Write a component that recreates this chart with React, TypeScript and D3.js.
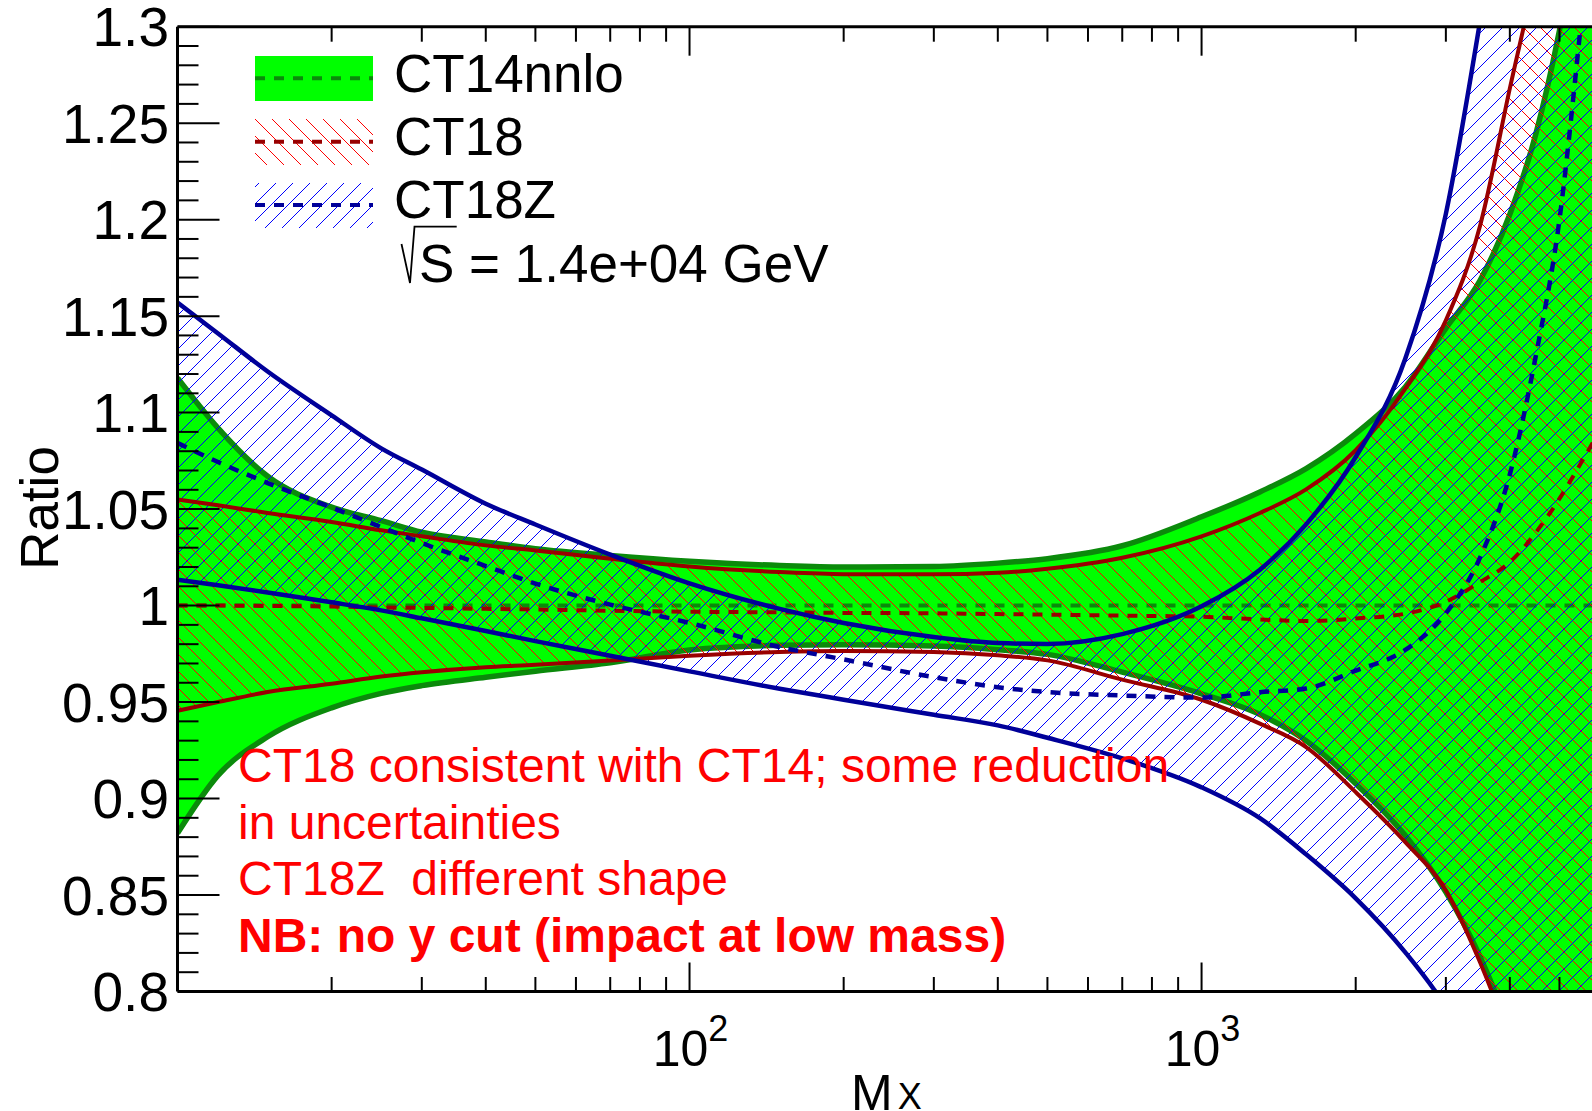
import React from 'react';
import * as d3 from 'd3';

// ---- data ----
const massGrid = [10, 12, 15, 20, 25, 30, 40, 50, 70, 100, 150, 200, 300, 400, 500, 700, 1000, 1300, 1600, 2000, 2500, 3000, 3500, 4000, 4500, 5000, 5500, 6000];

const ct14Up = [1.118, 1.092, 1.067, 1.051, 1.044, 1.038, 1.033, 1.0295, 1.026, 1.023, 1.0208, 1.020, 1.0203, 1.022, 1.0243, 1.031, 1.046, 1.0589, 1.071, 1.0891, 1.1133, 1.1437, 1.1686, 1.2028, 1.2448, 1.298, 1.36, 1.43];
const ct14Lo = [0.882, 0.912, 0.932, 0.947, 0.9545, 0.9585, 0.9629, 0.966, 0.9704, 0.977, 0.9794, 0.9797, 0.979, 0.9771, 0.9747, 0.9655, 0.9543, 0.9436, 0.930, 0.9077, 0.8808, 0.8515, 0.818, 0.78, 0.74, 0.70, 0.66, 0.62];
const ct14CentralMass = [10, 6000];
const ct14Central = [1.0, 1.0];

const ct18Up = [1.055, 1.052, 1.048, 1.0433, 1.039, 1.0359, 1.0312, 1.0286, 1.0243, 1.0203, 1.0174, 1.0163, 1.0162, 1.017, 1.0191, 1.0248, 1.0359, 1.048, 1.0602, 1.0805, 1.1124, 1.1478, 1.197, 1.268, 1.33, 1.40, 1.47, 1.55];
const ct18Lo = [0.9455, 0.950, 0.9552, 0.9595, 0.9632, 0.9655, 0.9681, 0.9693, 0.9716, 0.974, 0.9759, 0.9764, 0.9759, 0.9742, 0.9716, 0.9616, 0.9512, 0.9388, 0.9267, 0.9033, 0.8774, 0.8524, 0.815, 0.775, 0.735, 0.695, 0.655, 0.615];
const ct18Cen = [1.0, 1.0, 0.9998, 0.9995, 0.999, 0.9988, 0.9983, 0.998, 0.9973, 0.9968, 0.9965, 0.9962, 0.996, 0.9956, 0.9953, 0.9948, 0.9942, 0.9928, 0.992, 0.9933, 0.9958, 1.002, 1.0122, 1.0225, 1.038, 1.0554, 1.0736, 1.091];

const ct18zUp = [1.157, 1.141, 1.1213, 1.0986, 1.0815, 1.0705, 1.0528, 1.042, 1.0264, 1.0115, 0.9983, 0.991, 0.9837, 0.9806, 0.9801, 0.9852, 0.9996, 1.0186, 1.0421, 1.077, 1.128, 1.203, 1.303, 1.40, 1.50, 1.60, 1.70, 1.80];
const ct18zLo = [1.0134, 1.0105, 1.0068, 1.0017, 0.9975, 0.9934, 0.9868, 0.9816, 0.974, 0.9659, 0.9569, 0.9512, 0.9434, 0.9379, 0.9315, 0.9208, 0.9058, 0.8898, 0.8711, 0.8483, 0.8203, 0.792, 0.76, 0.73, 0.70, 0.67, 0.64, 0.61];
const ct18zCen = [1.0843, 1.0744, 1.0635, 1.0508, 1.0407, 1.0324, 1.0205, 1.0114, 1.0005, 0.991, 0.9785, 0.9721, 0.9629, 0.9577, 0.9552, 0.9534, 0.9523, 0.9551, 0.957, 0.9663, 0.977, 0.996, 1.025, 1.068, 1.13, 1.20, 1.30, 1.40];

const yTickValues = [0.8, 0.85, 0.9, 0.95, 1.0, 1.05, 1.1, 1.15, 1.2, 1.25, 1.3];
const yTickLabels = ['0.8', '0.85', '0.9', '0.95', '1', '1.05', '1.1', '1.15', '1.2', '1.25', '1.3'];
const xMajorTicks = [100, 1000];
const xMajorExponents = ['2', '3'];
const xMinorTicks = [20, 30, 40, 50, 60, 70, 80, 90, 200, 300, 400, 500, 600, 700, 800, 900, 2000, 3000, 4000, 5000];

const legendLabels = ['CT14nnlo', 'CT18', 'CT18Z'];
const noteLines = ['CT18 consistent with CT14; some reduction', 'in uncertainties', 'CT18Z  different shape'];
const noteBold = 'NB: no y cut (impact at low mass)';

// ---- layout ----
const W = 1592;
const H = 1111;
const L = 177.5;
const R = 1600;
const T = 26.7;
const B = 991.5;
const FONT = '"Liberation Sans", Arial, Helvetica, sans-serif';

const GREEN = '#00ff00';
const DKGREEN = '#0b8a0b';
const DKRED = '#990000';
const DKBLUE = '#000099';
const HS = 17; // hatch tile size

export default function App() {
  const x = d3.scaleLog().domain([10, 6000]).range([L, R]);
  const y = d3.scaleLinear().domain([0.8, 1.3]).range([B, T]);

  const band = (lo: number[], up: number[]) =>
    d3
      .area<number>()
      .x((d) => x(d))
      .y0((_, i) => y(lo[i]))
      .y1((_, i) => y(up[i]))
      .curve(d3.curveMonotoneX)(massGrid) || '';
  const line = (vals: number[], xs: number[] = massGrid) =>
    d3
      .line<number>()
      .x((d) => x(d))
      .y((_, i) => y(vals[i]))
      .curve(d3.curveMonotoneX)(xs) || '';

  const yMinor = d3.range(80, 131).map((v) => v / 100);

  return (
    <svg
      width={W}
      height={H}
      style={{ position: 'absolute', left: 0, top: 0, background: '#fff' }}
      fontFamily={FONT}
    >
      <defs>
        <clipPath id="plotClip">
          <rect x={L} y={T} width={R - L} height={B - T} />
        </clipPath>
        <pattern id="hatchRed" patternUnits="userSpaceOnUse" width={HS} height={HS}>
          <path
            d={`M0,0 L${HS},${HS} M${-2},${HS - 2} L2,${HS + 2} M${HS - 2},-2 L${HS + 2},2`}
            stroke="#ff0000"
            strokeWidth={1}
            shapeRendering="crispEdges"
          />
        </pattern>
        <pattern id="hatchBlue" patternUnits="userSpaceOnUse" width={HS} height={HS}>
          <path
            d={`M0,${HS} L${HS},0 M-2,2 L2,-2 M${HS - 2},${HS + 2} L${HS + 2},${HS - 2}`}
            stroke="#0000ff"
            strokeWidth={1}
            shapeRendering="crispEdges"
          />
        </pattern>
      </defs>

      <rect x={0} y={0} width={W} height={H} fill="#fff" />

      <g clipPath="url(#plotClip)">
        {/* CT14nnlo band */}
        <path d={band(ct14Lo, ct14Up)} fill={GREEN} />
        <path d={line(ct14Up)} fill="none" stroke={DKGREEN} strokeWidth={5.5} />
        <path d={line(ct14Lo)} fill="none" stroke={DKGREEN} strokeWidth={5.5} />
        <path d={line(ct14Central, ct14CentralMass)} fill="none" stroke={DKGREEN} strokeWidth={4} strokeDasharray="10 9" />

        {/* CT18 band */}
        <path d={band(ct18Lo, ct18Up)} fill="url(#hatchRed)" />
        {/* CT18Z band */}
        <path d={band(ct18zLo, ct18zUp)} fill="url(#hatchBlue)" />

        <path d={line(ct18Up)} fill="none" stroke={DKRED} strokeWidth={4} />
        <path d={line(ct18Lo)} fill="none" stroke={DKRED} strokeWidth={4} />
        <path d={line(ct18Cen)} fill="none" stroke={DKRED} strokeWidth={4} strokeDasharray="10 9" />

        <path d={line(ct18zUp)} fill="none" stroke={DKBLUE} strokeWidth={4.5} />
        <path d={line(ct18zLo)} fill="none" stroke={DKBLUE} strokeWidth={4.5} />
        <path d={line(ct18zCen)} fill="none" stroke={DKBLUE} strokeWidth={4.5} strokeDasharray="10 9" />
      </g>

      {/* frame */}
      <line x1={L} y1={T} x2={L} y2={B} stroke="#000" strokeWidth={3} />
      <line x1={L} y1={T} x2={R} y2={T} stroke="#000" strokeWidth={3} />
      <line x1={L} y1={B} x2={R} y2={B} stroke="#000" strokeWidth={3} />
      <line x1={R} y1={T} x2={R} y2={B} stroke="#000" strokeWidth={3} />

      {/* y ticks */}
      {yMinor.map((v) => {
        const major = Math.round(v * 100) % 5 === 0;
        return (
          <line key={'yt' + v} x1={L} x2={L + (major ? 42 : 21)} y1={y(v)} y2={y(v)} stroke="#000" strokeWidth={2} />
        );
      })}
      {yTickValues.map((v, i) => (
        <text key={'yl' + v} x={169} y={y(v) + 19.5} textAnchor="end" fontSize={55}>
          {yTickLabels[i]}
        </text>
      ))}

      {/* x ticks bottom & top */}
      {xMinorTicks.map((m) => (
        <g key={'xm' + m}>
          <line x1={x(m)} x2={x(m)} y1={B} y2={B - 14.5} stroke="#000" strokeWidth={2} />
          <line x1={x(m)} x2={x(m)} y1={T} y2={T + 15} stroke="#000" strokeWidth={2} />
        </g>
      ))}
      {xMajorTicks.map((m, i) => (
        <g key={'xM' + m}>
          <line x1={x(m)} x2={x(m)} y1={B} y2={B - 29} stroke="#000" strokeWidth={2} />
          <line x1={x(m)} x2={x(m)} y1={T} y2={T + 29} stroke="#000" strokeWidth={2} />
          <text x={x(m) + 1} y={1066} textAnchor="middle" fontSize={50}>
            10
            <tspan fontSize={36} dy={-25}>
              {xMajorExponents[i]}
            </tspan>
          </text>
        </g>
      ))}

      {/* axis titles */}
      <text transform="translate(58,508) rotate(-90)" textAnchor="middle" fontSize={53}>
        Ratio
      </text>
      <text x={851} y={1110} fontSize={50}>
        M
        <tspan fontSize={36} dx={5} dy={-1}>
          X
        </tspan>
      </text>

      {/* legend */}
      <rect x={255} y={56} width={118} height={45} fill={GREEN} />
      <line x1={255} x2={373} y1={78.3} y2={78.3} stroke={DKGREEN} strokeWidth={4} strokeDasharray="10 9" />
      <rect x={255} y={119} width={118} height={46} fill="url(#hatchRed)" />
      <line x1={255} x2={373} y1={141.7} y2={141.7} stroke={DKRED} strokeWidth={4} strokeDasharray="10 9" />
      <rect x={255} y={183} width={118} height={45} fill="url(#hatchBlue)" />
      <line x1={255} x2={373} y1={205} y2={205} stroke={DKBLUE} strokeWidth={4} strokeDasharray="10 9" />
      {legendLabels.map((s, i) => (
        <text key={s} x={394} y={91.7 + i * 63.3} fontSize={53}>
          {s}
        </text>
      ))}
      <polyline points="401.5,244 410,283 414.5,226.7 456.7,226.7" fill="none" stroke="#000" strokeWidth={1.8} />
      <text x={419} y={281.5} fontSize={53}>
        S = 1.4e+04 GeV
      </text>

      {/* notes */}
      {noteLines.map((s, i) => (
        <text key={s} x={238} y={782 + i * 56.7} fontSize={48} fill="#ff0000" style={{ whiteSpace: 'pre' }}>
          {s}
        </text>
      ))}
      <text x={238} y={952} fontSize={48} fontWeight="bold" fill="#ff0000">
        {noteBold}
      </text>
    </svg>
  );
}
